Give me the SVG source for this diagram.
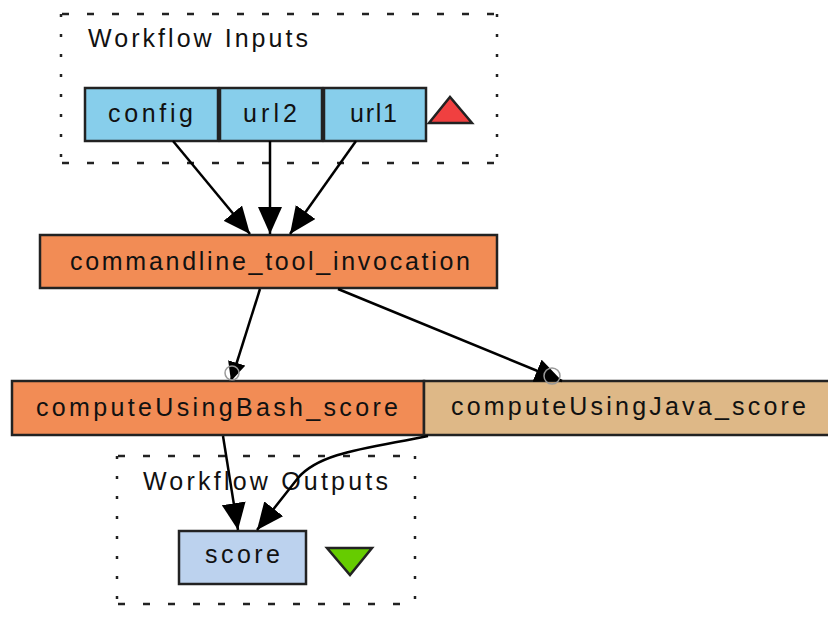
<svg xmlns="http://www.w3.org/2000/svg" width="828" height="632" viewBox="0 0 828 632">
  <style>
    .lbl { font-family: "Liberation Sans", Arial, sans-serif; font-size: 25px; fill: #111; }
    .node { stroke: #222; stroke-width: 2.5; }
    .cluster { fill: none; stroke: #222; stroke-width: 2.5; }
    .edge { fill: none; stroke: #000; stroke-width: 2.5; }
    .port { fill: none; stroke: #999; stroke-width: 1.5; }
  </style>
  <defs>
    <marker id="arrow" markerUnits="userSpaceOnUse" markerWidth="28" markerHeight="24" refX="27" refY="12" orient="auto">
      <path d="M0,0 L27,12 L0,24 z" fill="#000"/>
    </marker>
    <marker id="arrowSmall" markerUnits="userSpaceOnUse" markerWidth="20" markerHeight="18" refX="19" refY="9" orient="auto">
      <path d="M0,0 L19,9 L0,18 z" fill="#000"/>
    </marker>
  </defs>
  <rect width="828" height="632" fill="#fff"/>

  <!-- input cluster -->
  <g id="cluster_inputs">
    <path class="cluster" d="M62,14 H497 M62,163 H497" stroke-dasharray="7,18"/>
    <path class="cluster" d="M61,14 V163 M497,14 V163" stroke-dasharray="3,17"/>
    <text class="lbl" x="88" y="47" textLength="220" lengthAdjust="spacing">Workflow Inputs</text>
  </g>

  <!-- output cluster -->
  <g id="cluster_outputs">
    <path class="cluster" d="M118,456 H415 M118,604 H415" stroke-dasharray="7,18"/>
    <path class="cluster" d="M117,456 V604 M415,456 V604" stroke-dasharray="3,17"/>
    <text class="lbl" x="143" y="490" textLength="245" lengthAdjust="spacing">Workflow Outputs</text>
  </g>

  <g id="node_config">
    <rect class="node" x="85" y="88" width="133" height="53" fill="#87ceeb"/>
    <text class="lbl" x="108" y="122" textLength="85" lengthAdjust="spacing">config</text>
  </g>
  <g id="node_url2">
    <rect class="node" x="220" y="88" width="102" height="53" fill="#87ceeb"/>
    <text class="lbl" x="243" y="122" textLength="54" lengthAdjust="spacing">url2</text>
  </g>
  <g id="node_url1">
    <rect class="node" x="324" y="88" width="102" height="53" fill="#87ceeb"/>
    <text class="lbl" x="350" y="122" textLength="47" lengthAdjust="spacing">url1</text>
  </g>
  <g id="inputs_marker">
    <polygon points="429,123 472,123 450,97" fill="#f04040" stroke="#222" stroke-width="2.5"/>
  </g>

  <g id="node_commandline_tool_invocation">
    <rect class="node" x="40" y="235" width="457" height="53" fill="#f28c55"/>
    <text class="lbl" x="70" y="270" textLength="400" lengthAdjust="spacing">commandline_tool_invocation</text>
  </g>

  <g id="node_computeUsingBash_score">
    <rect class="node" x="12" y="381" width="412" height="54" fill="#f28c55"/>
    <text class="lbl" x="36" y="416" textLength="362" lengthAdjust="spacing">computeUsingBash_score</text>
  </g>
  <g id="node_computeUsingJava_score">
    <rect class="node" x="424" y="381" width="410" height="54" fill="#deb887"/>
    <text class="lbl" x="451" y="415" textLength="355" lengthAdjust="spacing">computeUsingJava_score</text>
  </g>

  <g id="node_score">
    <rect class="node" x="179" y="531" width="127" height="53" fill="#bcd2ee"/>
    <text class="lbl" x="205" y="563" textLength="75" lengthAdjust="spacing">score</text>
  </g>
  <g id="outputs_marker">
    <polygon points="327,548 372,548 350,575" fill="#66cc00" stroke="#222" stroke-width="2.5"/>
  </g>

  <g id="edges">
    <path class="edge" d="M173,141 L250,234" marker-end="url(#arrow)"/>
    <path class="edge" d="M270,141 L270,234" marker-end="url(#arrow)"/>
    <path class="edge" d="M356,141 L290,234" marker-end="url(#arrow)"/>
    <path class="edge" d="M260,289 L231,381" marker-end="url(#arrowSmall)"/>
    <circle class="port" cx="232" cy="373" r="7"/>
    <path class="edge" d="M338,289 L562,381" marker-end="url(#arrow)"/>
    <circle class="port" cx="552" cy="376" r="8"/>
    <path class="edge" d="M223,436 L238,530" marker-end="url(#arrow)"/>
    <path class="edge" d="M428,436 C370,448 320,452 298,478 L257,530" marker-end="url(#arrow)"/>
  </g>
</svg>
